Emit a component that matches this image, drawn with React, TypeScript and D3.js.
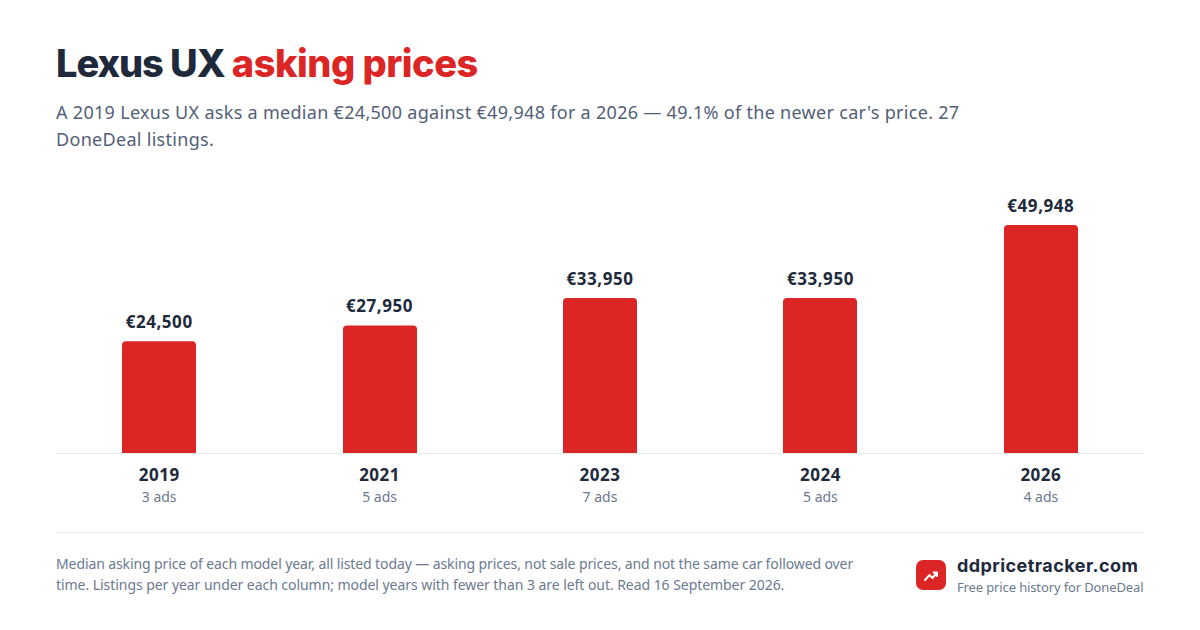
import { useEffect, useRef } from "react";
import * as d3 from "d3";

const years = ["2019", "2021", "2023", "2024", "2026"];
const medians = [24500, 27950, 33950, 33950, 49948];
const adCounts = [3, 5, 7, 5, 4];
const subtitleLines = [
  "A 2019 Lexus UX asks a median €24,500 against €49,948 for a 2026 — 49.1% of the newer car's price. 27",
  "DoneDeal listings.",
];
const footnoteLines = [
  "Median asking price of each model year, all listed today — asking prices, not sale prices, and not the same car followed over",
  "time. Listings per year under each column; model years with fewer than 3 are left out. Read 16 September 2026.",
];

const RED = "#dc2626";
const DARK = "#1e293b";
const SLATE = "#526077";
const MUTED = "#6b7a90";
const FONT = "'Noto Sans', sans-serif";
const TITLE_FONT = "Inter, sans-serif";

export default function App() {
  const svgRef = useRef<SVGSVGElement>(null);

  useEffect(() => {
    if (!svgRef.current) return;
    const width = 1200;
    const height = 630;
    const baseline = 453;

    d3.select(svgRef.current).selectAll("*").remove();
    const svg = d3
      .select(svgRef.current)
      .attr("width", width)
      .attr("height", height)
      .attr("viewBox", `0 0 ${width} ${height}`)
      .style("position", "absolute")
      .style("left", 0)
      .style("top", 0)
      .style("background", "#fff");

    const x = d3
      .scaleBand<string>()
      .domain(years)
      .range([56, 1144])
      .paddingInner(0.664)
      .paddingOuter(0.3);
    const y = d3.scaleLinear().domain([0, 49948]).range([baseline, 225]);

    // title
    const title = svg
      .append("text")
      .attr("x", 56)
      .attr("y", 77)
      .attr("font-family", TITLE_FONT)
      .attr("font-size", 38)
      .attr("font-weight", 800);
    title
      .append("tspan")
      .attr("fill", DARK)
      .attr("letter-spacing", -1.05)
      .text("Lexus UX ");
    title
      .append("tspan")
      .attr("fill", RED)
      .attr("letter-spacing", -0.5)
      .text("asking prices");

    svg
      .selectAll(".sub")
      .data(subtitleLines)
      .join("text")
      .attr("class", "sub")
      .attr("x", 56)
      .attr("y", (_, i) => 119 + i * 27)
      .attr("font-family", FONT)
      .attr("font-size", 18)
      .attr("letter-spacing", 0.3)
      .attr("fill", SLATE)
      .text((d) => d);

    // bars, flat at the bottom and rounded on top
    const rows = years.map((year, i) => ({
      year,
      value: medians[i],
      ads: adCounts[i],
    }));
    const r = 4;
    svg
      .selectAll(".bar")
      .data(rows)
      .join("path")
      .attr("class", "bar")
      .attr("fill", RED)
      .attr("d", (d) => {
        const x0 = Math.round(x(d.year)!);
        const x1 = x0 + Math.round(x.bandwidth());
        const top = y(d.value);
        return `M${x0},${baseline}V${top + r}Q${x0},${top} ${x0 + r},${top}H${x1 - r}Q${x1},${top} ${x1},${top + r}V${baseline}Z`;
      });

    svg
      .append("line")
      .attr("x1", 56)
      .attr("x2", 1144)
      .attr("y1", baseline + 0.5)
      .attr("y2", baseline + 0.5)
      .attr("stroke", "#e2e8f0");

    const center = (d: { year: string }) => x(d.year)! + x.bandwidth() / 2;

    svg
      .selectAll(".val")
      .data(rows)
      .join("text")
      .attr("class", "val")
      .attr("x", center)
      .attr("y", (d) => y(d.value) - 13)
      .attr("text-anchor", "middle")
      .attr("font-family", FONT)
      .attr("font-size", 17)
      .attr("font-weight", 700)
      .attr("letter-spacing", 0.55)
      .attr("fill", DARK)
      .text((d) => `€${d3.format(",")(d.value)}`);

    svg
      .selectAll(".year")
      .data(rows)
      .join("text")
      .attr("class", "year")
      .attr("x", center)
      .attr("y", 481)
      .attr("text-anchor", "middle")
      .attr("font-family", FONT)
      .attr("font-size", 17)
      .attr("font-weight", 700)
      .attr("letter-spacing", 0.5)
      .attr("fill", DARK)
      .text((d) => d.year);

    svg
      .selectAll(".ads")
      .data(rows)
      .join("text")
      .attr("class", "ads")
      .attr("x", center)
      .attr("y", 502)
      .attr("text-anchor", "middle")
      .attr("font-family", FONT)
      .attr("font-size", 14)
      .attr("fill", MUTED)
      .text((d) => `${d.ads} ads`);

    // footer
    svg
      .append("line")
      .attr("x1", 56)
      .attr("x2", 1144)
      .attr("y1", 532.5)
      .attr("y2", 532.5)
      .attr("stroke", "#e2e8f0");

    svg
      .selectAll(".foot")
      .data(footnoteLines)
      .join("text")
      .attr("class", "foot")
      .attr("x", 56)
      .attr("y", (_, i) => 569 + i * 21)
      .attr("font-family", FONT)
      .attr("font-size", 14)
      .attr("letter-spacing", (_, i) => (i === 0 ? -0.105 : -0.053))
      .attr("fill", MUTED)
      .text((d) => d);

    svg
      .append("rect")
      .attr("x", 916)
      .attr("y", 560)
      .attr("width", 30)
      .attr("height", 30)
      .attr("rx", 7)
      .attr("fill", RED);
    svg
      .append("path")
      .attr("d", "M925,580L929.5,575L932.5,578L937,572.5M933.5,572.5H937V576")
      .attr("fill", "none")
      .attr("stroke", "#fff")
      .attr("stroke-width", 2)
      .attr("stroke-linecap", "round")
      .attr("stroke-linejoin", "round");

    svg
      .append("text")
      .attr("x", 957)
      .attr("y", 572)
      .attr("font-family", TITLE_FONT)
      .attr("font-size", 18)
      .attr("font-weight", 700)
      .attr("letter-spacing", 0.44)
      .attr("fill", DARK)
      .text("ddpricetracker.com");
    svg
      .append("text")
      .attr("x", 957)
      .attr("y", 592)
      .attr("font-family", FONT)
      .attr("font-size", 13)
      .attr("letter-spacing", -0.13)
      .attr("fill", MUTED)
      .text("Free price history for DoneDeal");
  }, []);

  return <svg ref={svgRef} />;
}
